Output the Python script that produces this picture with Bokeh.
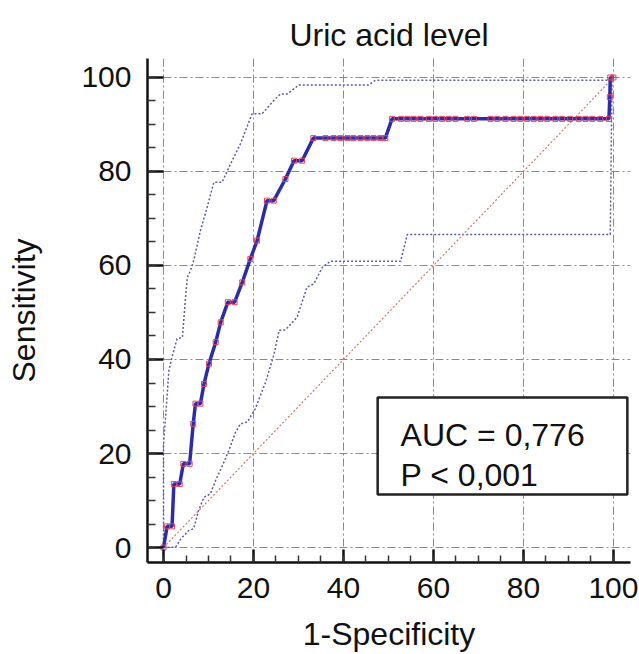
from bokeh.plotting import figure
from bokeh.models import BoxAnnotation, Label, FixedTicker
from bokeh.embed import file_html
from bokeh.resources import INLINE

# ---- data ----
roc_fpr = [0, 0.8, 1.9, 2.3, 3.6, 4.4, 5.8, 6.6, 7.1, 8.2, 9.0, 10.1, 11.6, 12.7, 14.3,
           15.8, 17.5, 19.3, 20.8, 23.0, 24.5, 27.1, 29.0, 30.8, 33.3,
           36.0, 37.8, 39.3, 40.9, 42.2, 43.8, 45.3, 46.7, 48.2, 49.3,
           50.8, 52.8, 54.2, 55.6, 57.1, 59.0, 60.4, 61.9, 63.4, 64.9, 67.5, 69.0,
           72.7, 74.2, 76.0, 77.8, 79.3, 80.8, 82.3, 83.8, 85.3, 87.1, 88.6, 90.4,
           92.3, 93.8, 95.3, 97.1, 99.0, 99.2, 99.3, 100]
roc_tpr = [0, 4.5, 4.5, 13.5, 13.5, 17.8, 17.8, 26.3, 30.6, 30.6, 34.8, 39.1, 43.7, 47.9, 52.2,
           52.2, 56.4, 61.4, 65.3, 73.8, 73.8, 78.4, 82.3, 82.3, 87.1,
           87.1, 87.1, 87.1, 87.1, 87.1, 87.1, 87.1, 87.1, 87.1, 87.1,
           91.2, 91.2, 91.2, 91.2, 91.2, 91.2, 91.2, 91.2, 91.2, 91.2, 91.2, 91.2,
           91.2, 91.2, 91.2, 91.2, 91.2, 91.2, 91.2, 91.2, 91.2, 91.2, 91.2, 91.2,
           91.2, 91.2, 91.2, 91.2, 91.2, 95.8, 100, 100]

upper_fpr = [0, 0, 0.4, 1.2, 1.7, 3.0, 4.2, 4.9, 5.3, 6.0, 6.7, 8.2, 9.7, 11.2, 13.0,
             14.9, 17.1, 19.7, 21.9, 24.5, 26.0, 27.5, 30.1, 45.6, 47.1, 99.3, 100]
upper_tpr = [0, 22, 27, 37.7, 39.8, 44.4, 44.7, 53.3, 57.5, 58.9, 61.0, 67.4, 72.4, 77.7, 77.7,
             81.6, 85.9, 92.3, 92.3, 95.1, 96.5, 96.5, 98.4, 98.4, 99.4, 99.4, 100]

lower_fpr = [0, 0.4, 2.7, 3.8, 5.6, 6.7, 7.8, 9.0, 10.4, 11.6, 13.4, 14.5, 16.0, 17.1, 18.6,
             20.4, 22.7, 24.5, 25.7, 27.1, 29.7, 31.9, 33.4, 35.3, 37.1, 52.7, 54.2, 99.3, 99.7]
lower_tpr = [0, 0, 0.1, 1.8, 3.6, 4.0, 7.9, 10.7, 11.4, 14.3, 18.1, 20.6, 24.5, 26.3, 26.7,
             29.5, 35.2, 40.9, 46.2, 46.3, 49.0, 55.4, 56.1, 59.6, 60.9, 60.9, 66.6, 66.6, 100]

diag_x = [0, 100]
diag_y = [0, 100]

major_ticks = [0, 20, 40, 60, 80, 100]
minor_ticks = [0, 5, 10, 15, 20, 25, 30, 35, 40, 45, 50, 55, 60, 65, 70, 75, 80, 85, 90, 95, 100]

title_text = "Uric acid level"
x_label = "1-Specificity"
y_label = "Sensitivity"
auc_text = "AUC = 0,776"
p_text = "P < 0,001"

FONT = "Liberation Sans"

p = figure(width=639, height=654, x_range=(-3.56, 103.8), y_range=(-3.19, 104.04),
           output_backend="svg", toolbar_location=None,
           min_border_left=147, min_border_right=9, min_border_top=58, min_border_bottom=92)
p.outline_line_color = None
p.background_fill_color = "white"
p.border_fill_color = "white"

p.title.text = title_text
p.title.align = "center"
p.title.text_font = FONT
p.title.text_font_size = "32px"
p.title.text_font_style = "normal"
p.title.text_color = "#111111"
p.title.standoff = 12

for ax in (p.xaxis, p.yaxis):
    ax.ticker = FixedTicker(ticks=major_ticks, minor_ticks=minor_ticks)
    ax.axis_line_width = 2.5
    ax.axis_line_color = "#111111"
    ax.major_tick_line_width = 2.5
    ax.major_tick_line_color = "#111111"
    ax.minor_tick_line_width = 1.5
    ax.minor_tick_line_color = "#333333"
    ax.major_tick_out = 0
    ax.minor_tick_out = 0
    ax.major_label_text_font = FONT
    ax.major_label_text_font_size = "30px"
    ax.major_label_text_color = "#111111"
    ax.axis_label_text_font = FONT
    ax.axis_label_text_font_size = "32px"
    ax.axis_label_text_font_style = "normal"
    ax.axis_label_text_color = "#111111"

p.xaxis.major_tick_in = 13
p.xaxis.minor_tick_in = 7
p.yaxis.major_tick_in = 16
p.yaxis.minor_tick_in = 8
p.xaxis.major_label_standoff = 15
p.yaxis.major_label_standoff = 16
p.xaxis.axis_label = x_label
p.yaxis.axis_label = y_label
p.xaxis.axis_label_standoff = 15
p.yaxis.axis_label_standoff = 36

for g in (p.xgrid, p.ygrid):
    g.ticker = FixedTicker(ticks=major_ticks)
    g.grid_line_color = "#8a8a8a"
    g.grid_line_width = 1
    g.grid_line_dash = "8 3 2 3"

# confidence bounds
p.line(upper_fpr, upper_tpr, line_color="#5a5aa8", line_width=1.5, line_dash="2 2")
p.line(lower_fpr, lower_tpr, line_color="#5a5aa8", line_width=1.5, line_dash="2 2")
# diagonal reference
p.line(diag_x, diag_y, line_color="#d07868", line_width=1.2, line_dash="2 2")
# ROC curve
p.line(roc_fpr, roc_tpr, line_color="#2c2ca8", line_width=3.5)
p.scatter(roc_fpr, roc_tpr, marker="square", size=5, fill_color=None,
          line_color="#e04060", line_width=1)

box = BoxAnnotation(left=47.6, right=103.1, bottom=11.3, top=31.9,
                    fill_color="white", fill_alpha=1.0,
                    line_color="#222222", line_width=2.5, line_alpha=1.0)
p.add_layout(box)
p.add_layout(Label(x=52.7, y=24.0, text=auc_text, text_font=FONT, text_font_size="32px",
                   text_color="#111111", text_baseline="alphabetic"))
p.add_layout(Label(x=52.7, y=15.5, text=p_text, text_font=FONT, text_font_size="32px",
                   text_color="#111111", text_baseline="alphabetic"))

open("out.html", "w").write(file_html(p, INLINE))
